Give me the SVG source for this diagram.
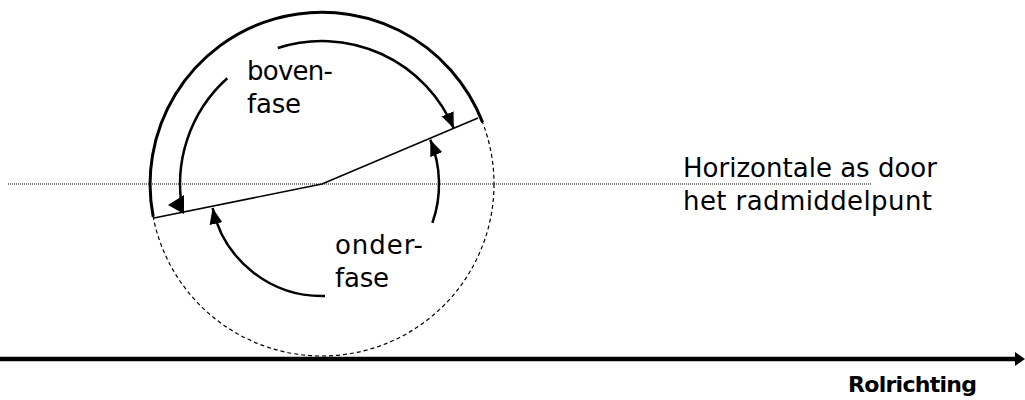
<svg xmlns="http://www.w3.org/2000/svg" width="1025" height="400" viewBox="0 0 1025 400">
<style>
.lbl{font-family:"DejaVu Sans","Liberation Sans",sans-serif;font-size:26px;fill:#000}
.bold{font-family:"DejaVu Sans","Liberation Sans",sans-serif;font-size:22px;font-weight:bold;fill:#000}
.arc{fill:none;stroke:#000;stroke-width:2.5}
</style>
<defs>
<marker id="ah" markerUnits="userSpaceOnUse" markerWidth="18" markerHeight="14" refX="16" refY="7" orient="auto" viewBox="0 0 18 14">
<path d="M0,0.5 L16,7 L0,13.5 z" fill="#000"/>
</marker>
</defs>
<g id="wheel">
<circle cx="322" cy="184" r="172" fill="none" stroke="#000" stroke-width="1.2" stroke-dasharray="4 3"/>
<path d="M153.2 216.8 A172 172 0 0 1 482.6 122.4" fill="none" stroke="#000" stroke-width="3"/>
</g>
<g id="axis-line">
<line x1="8" y1="184" x2="872" y2="184" stroke="#000" stroke-width="1" stroke-dasharray="1 1"/>
</g>
<g id="spoke">
<polyline points="154,218 322,184 478,118" fill="none" stroke="#000" stroke-width="1.6"/>
</g>
<g id="connectors">
<path class="arc" d="M277.8 48 A143 143 0 0 1 453.8 128.6" marker-end="url(#ah)"/>
<path class="arc" d="M227.3 78.2 A142 142 0 0 0 182.8 211.8"/>
<polygon points="168,205 184,195 184,214" fill="#000"/>
<path class="arc" d="M325 296 A112 112 0 0 1 212.6 207.9" marker-end="url(#ah)"/>
<path class="arc" d="M432.4 222.9 A117 117 0 0 0 430.3 139.8" marker-end="url(#ah)"/>
</g>
<g id="rolrichting-arrow">
<line x1="0" y1="359" x2="1018" y2="359" stroke="#000" stroke-width="4.5"/>
<polygon points="1015,352 1025,359 1015,366" fill="#000"/>
</g>
<g id="label-boven">
<text class="lbl" x="247" y="80" textLength="86">boven-</text>
<text class="lbl" x="247" y="113" textLength="54">fase</text>
</g>
<g id="label-onder">
<text class="lbl" x="335" y="254" textLength="88">onder-</text>
<text class="lbl" x="335" y="287" textLength="54">fase</text>
</g>
<g id="label-horizontale">
<text class="lbl" x="683" y="177" textLength="254">Horizontale as door</text>
<text class="lbl" x="683" y="210" textLength="249">het radmiddelpunt</text>
</g>
<g id="label-rolrichting">
<text class="bold" x="848" y="392" textLength="129">Rolrichting</text>
</g>
</svg>
